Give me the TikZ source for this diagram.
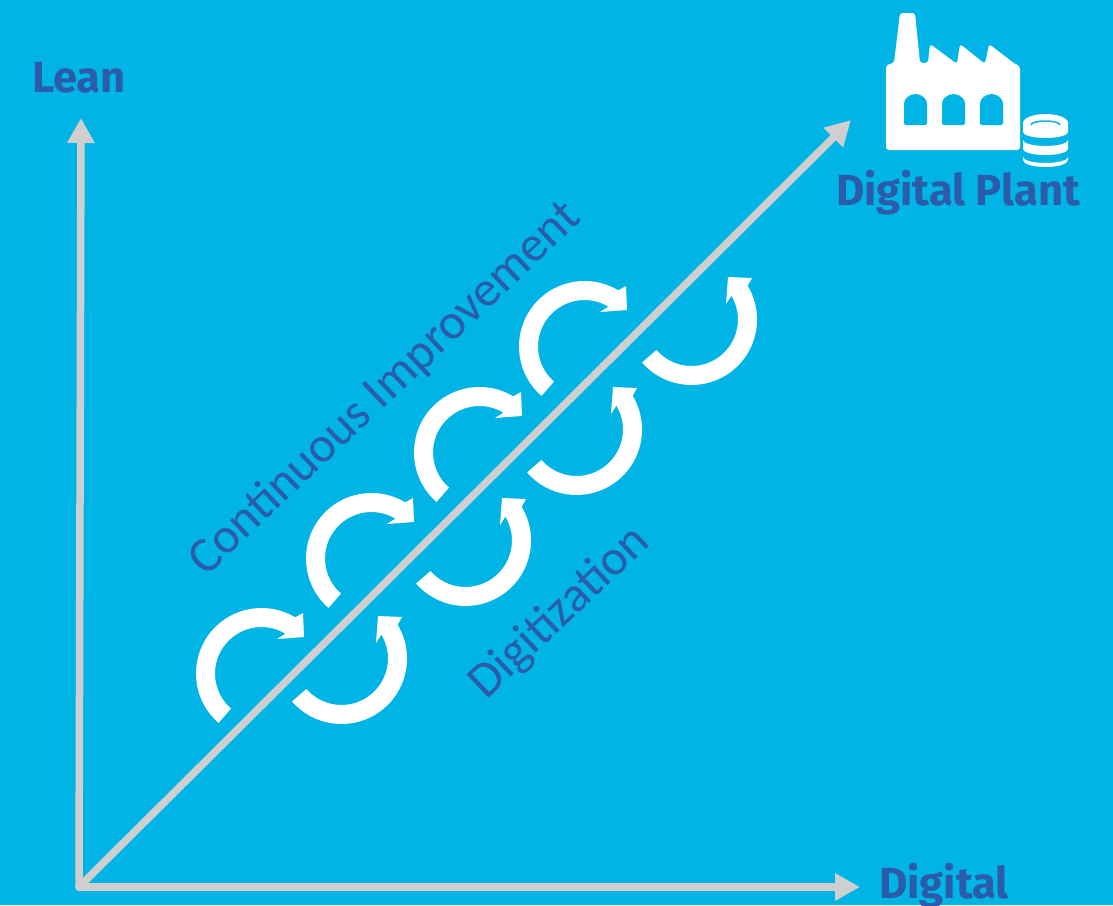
\documentclass[tikz,border=0pt]{standalone}
\usepackage{fontspec}
\usepackage{tikz}
\usetikzlibrary{arrows.meta}
\setmainfont{Carlito}
\newfontfamily\firaBold[BoldFont={* Bold}]{Fira Sans}
\definecolor{skyBack}{HTML}{00B5E6}
\definecolor{axisGray}{HTML}{CFCFCF}
\definecolor{labelBlue}{HTML}{2A5CAA}
\tikzset{
  axisLine/.style={draw=axisGray,line width=7.5pt,line cap=round,-{Triangle[length=25pt,width=26pt]}},
  bigLabel/.style={text=labelBlue,font=\firaBold\fontsize{43.5}{43.5}\selectfont\bfseries,inner sep=0pt,anchor=base},
  slantLabel/.style={text=labelBlue,font=\fontsize{50}{50}\selectfont,rotate=43.5,inner sep=0pt}
}
\begin{document}
\begin{tikzpicture}[x=1pt,y=-1pt]
\fill[skyBack] (0,0) rectangle (1113,905);
\useasboundingbox (0,0) rectangle (1113,905);

\coordinate (origin) at (79,887);
\coordinate (leanEnd) at (81,118);
\coordinate (digitalEnd) at (860,887);
\coordinate (plantEnd) at (851,120);

\foreach \cx/\cy in {261.5/673.5, 371.5/558.5, 479.5/452.5, 584.5/346.5}{
  \begin{scope}[shift={(\cx,\cy)}]
    \fill[white] (131:46.5) arc[start angle=131,end angle=301,radius=46.5]
      -- (15.5,-34.5) -- (42.5,-36.5) -- (41.5,-60.5)
      -- (301:65.5) arc[start angle=301,end angle=131,radius=65.5] -- cycle;
  \end{scope}
}
\foreach \cx/\cy in {341.5/658.5, 465.5/540.5, 576.5/429.5, 691.5/319.5}{
  \begin{scope}[shift={(\cx,\cy)}]
    \fill[white] (139:46.5) arc[start angle=139,end angle=-31,radius=46.5]
      -- (34.5,-15.5) -- (36.5,-42.5) -- (60.5,-41.5)
      -- (-31:65.5) arc[start angle=-31,end angle=139,radius=65.5] -- cycle;
  \end{scope}
}

\draw[axisLine] (origin) -- (leanEnd);
\draw[axisLine] (origin) -- (digitalEnd);
\draw[axisLine] (origin) -- (plantEnd);

\node[bigLabel] (lean) at (79,92) {Lean};
\node[bigLabel] (digital) at (944,898) {Digital};
\node[bigLabel] (plant) at (958,205) {Digital Plant};
\node[slantLabel] (improve) at (385,389) {Continuous Improvement};
\node[slantLabel] (digitize) at (560,613) {Digitization};

\fill[white,rounded corners=3pt] (886,150) -- (886,65) -- (894,63) -- (900,13) -- (915,13) -- (920,63)
  -- (928,63) -- (930,44) -- (957,64) -- (960,44) -- (985,64) -- (989,44) -- (1015,64)
  -- (1020,66) -- (1020,150) -- cycle;
\foreach \wx in {904,942,980}{
    \fill[skyBack,rounded corners=2pt] (\wx,125) -- (\wx,105.5) arc[start angle=180,end angle=360,radius=11.5]
      -- (\wx+23,125) -- cycle;
}

\fill[white] (1023,123) arc[start angle=180,end angle=360,x radius=22.5,y radius=9]
  -- (1068,132) arc[start angle=0,end angle=180,x radius=22.5,y radius=6] -- cycle;
\fill[white] (1023,140) arc[start angle=180,end angle=0,x radius=22.5,y radius=6]
  -- (1068,149) arc[start angle=0,end angle=180,x radius=22.5,y radius=6] -- cycle;
\fill[white] (1023,157) arc[start angle=180,end angle=0,x radius=22.5,y radius=6]
  -- (1068,160) arc[start angle=0,end angle=180,x radius=22.5,y radius=7] -- cycle;
\draw[skyBack,line width=1.5pt] (1031,125) arc[start angle=180,end angle=360,x radius=14.5,y radius=4];
\end{tikzpicture}
\end{document}
